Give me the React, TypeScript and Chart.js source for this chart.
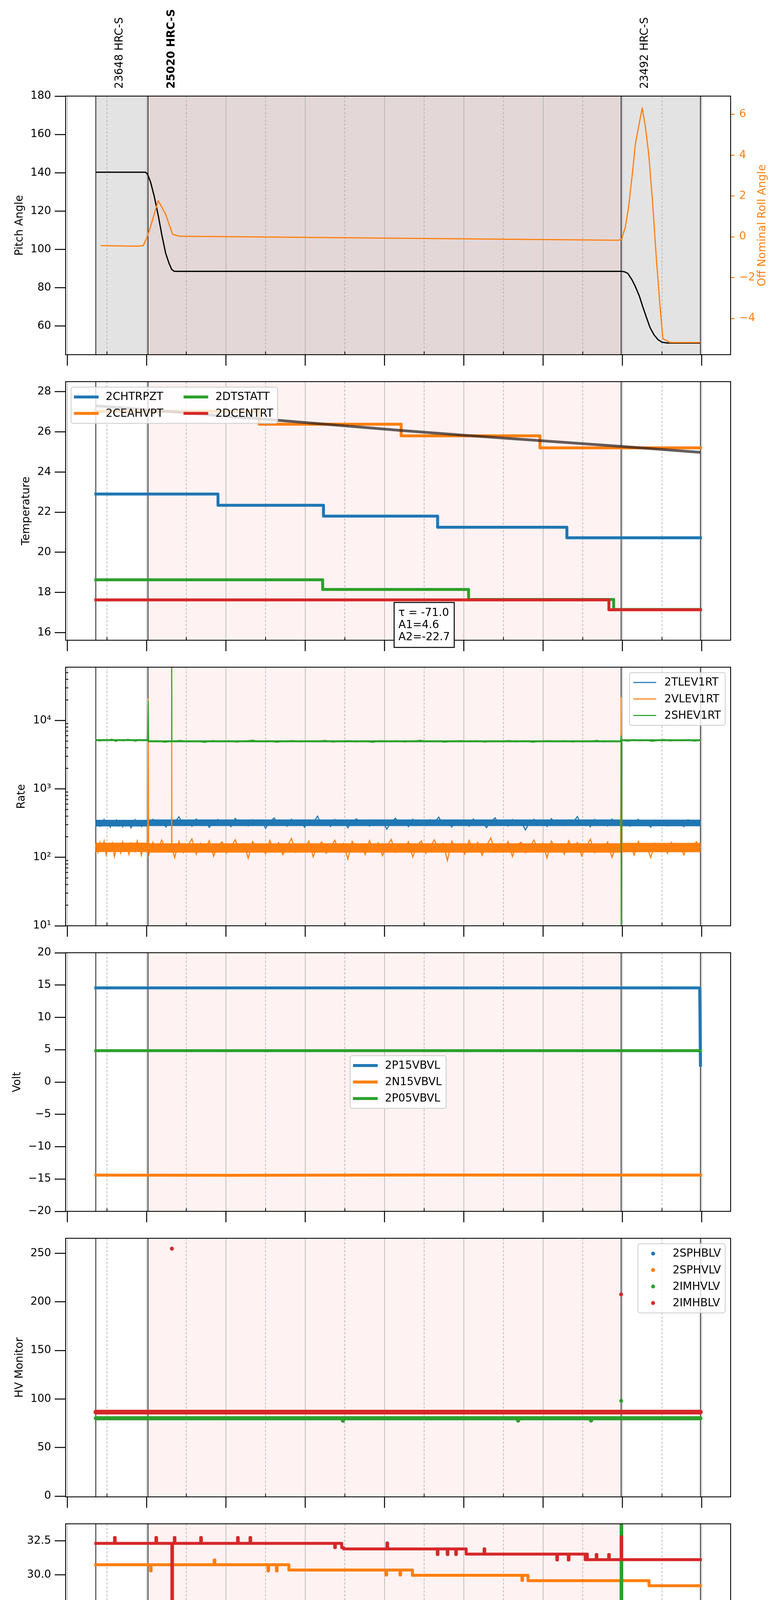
import React, { useEffect, useRef } from 'react';
import { Chart, registerables } from 'chart.js';

Chart.register(...registerables);

const FONT = "'DejaVu Sans', sans-serif";
const FS = 27.8;
const C_BLUE = '#1f77b4';
const C_ORANGE = '#ff7f0e';
const C_GREEN = '#2ca02c';
const C_RED = '#d62728';

const PAGE_W = 2000;
const PAGE_H = 5400;
const PLOT_L = 168;
const PLOT_R = 1871;
const PANEL_TOP0 = 246;
const PANEL_STEP = 731;
const PANEL_H = 662;
const MARGIN = 34;

// ---------------- time axis (hours) ----------------
const X_MIN = -0.022;
const X_MAX = 8.365;
const HOUR_VALUES = [0, 1, 2, 3, 4, 5, 6, 7, 8];
const HOUR_LABELS = ['00h', '01h', '02h', '03h', '04h', '05h', '06h', '07h', '08h'];
const HALF_VALUES = [0.5, 1.5, 2.5, 3.5, 4.5, 5.5, 6.5, 7.5];
const HALF_LABEL = '30';
const X_TITLE = '2021-05-05 (125)';

// ---------------- obsids ----------------
const OBS_START = [0.359, 1.017, 6.984];
const OBS_NAME = ['23648 HRC-S', '25020 HRC-S', '23492 HRC-S'];
const OBS_BOLD = [false, true, false];
const DATA_END = 7.984;
const CUR_START = 1.017;
const CUR_END = 6.984;

type Pair = [number, number];

// ---------------- panel 1: pitch / roll ----------------
const PITCH_RANGE = [45.1, 180];
const PITCH_TICKS = [60, 80, 100, 120, 140, 160, 180];
const ROLL_RANGE = [-5.78, 6.9];
const ROLL_TICKS = [-4, -2, 0, 2, 4, 6];
const PITCH: Pair[] = [[0.359, 140.3], [0.985, 140.3], [1.01, 139.4], [1.05, 135.1], [1.096, 127.7], [1.146, 117.8], [1.19, 107.9], [1.24, 98.0], [1.285, 92.5], [1.316, 89.6], [1.347, 88.6], [6.99, 88.6], [7.03, 88.3], [7.068, 87.5], [7.118, 84.4], [7.163, 80.7], [7.213, 75.8], [7.256, 70.2], [7.307, 64.1], [7.35, 59.1], [7.4, 55.4], [7.45, 52.9], [7.5, 51.6], [7.57, 51.2], [7.984, 51.2]];
const ROLL: Pair[] = [[0.42, -0.43], [0.876, -0.46], [0.958, -0.43], [1.008, 0.0], [1.064, 0.7], [1.146, 1.77], [1.24, 1.1], [1.328, 0.12], [1.41, 0.03], [6.94, -0.17], [6.987, -0.14], [7.037, 0.47], [7.08, 1.51], [7.13, 3.25], [7.163, 4.53], [7.207, 5.45], [7.25, 6.32], [7.288, 5.45], [7.332, 4.06], [7.38, 1.74], [7.43, -1.16], [7.476, -3.48], [7.51, -4.99], [7.6, -5.18], [7.984, -5.18]];

// ---------------- panel 2: temperature ----------------
const TEMP_RANGE = [15.62, 28.5];
const TEMP_TICKS = [16, 18, 20, 22, 24, 26, 28];
const CHTRPZT: Pair[] = [[0.359, 22.9], [1.9, 22.34], [3.23, 21.8], [4.67, 21.25], [6.3, 20.72], [7.984, 20.72]];
const CEAHVPT: Pair[] = [[0.359, 27.02], [2.42, 26.38], [4.21, 25.8], [5.96, 25.2], [7.984, 25.2]];
const DTSTATT: Pair[] = [[0.359, 18.63], [3.22, 18.15], [5.06, 17.65], [6.89, 17.15], [7.984, 17.15]];
const DCENTRT: Pair[] = [[0.359, 17.63], [6.83, 17.14], [7.984, 17.14]];
const TEMP_FIT: Pair[] = [[0.359, 27.3], [1.0, 27.1], [2.0, 26.78], [2.42, 26.65], [3.0, 26.46], [4.21, 26.07], [5.0, 25.83], [5.96, 25.56], [7.0, 25.27], [7.984, 24.98]];
const FIT_TEXT = ['\u03c4 = -71.0', 'A1=4.6', 'A2=-22.7'];
const FIT_TEXT_AT: Pair = [4.5, 17.5];

// ---------------- panel 3: rates ----------------
const RATE_RANGE = [10, 60100];
const RATE_TICKS = [10, 100, 1000, 10000];
const RATE_TICK_LABELS = ['10\u00b9', '10\u00b2', '10\u00b3', '10\u2074'];
const SEG_A: Pair = [0.359, 1.012];
const SEG_B: Pair = [1.025, 6.978];
const SEG_C: Pair = [6.992, 7.984];
// dense core of each noisy band (centre level)
const TLEV_CORE: Pair[] = [[0.359, 316], [1.012, 316], [1.025, 320], [6.978, 320], [6.992, 318], [7.984, 318]];
const VLEV_CORE: Pair[] = [[0.359, 140], [1.012, 140], [1.025, 137], [6.978, 137], [6.992, 139], [7.984, 139]];
const SHEV_CORE: Pair[] = [[0.359, 5160], [1.012, 5160], [1.025, 4960], [6.978, 4960], [6.992, 5140], [7.984, 5140]];
const TLEV_A = [306, 341, 285, 322, 358, 294, 316, 276, 335, 301, 350, 288, 320, 279, 344, 305, 329, 270, 314, 355, 290, 326, 283, 338, 299, 319];
const TLEV_B = [294, 360, 307, 338, 278, 350, 321, 392, 300, 333, 285, 364, 312, 345, 274, 327, 358, 296, 340, 281, 370, 316, 334, 288, 355, 303, 347, 266, 331, 377, 298, 324, 285, 360, 309, 342, 276, 351, 320, 400, 293, 336, 282, 357, 314, 341, 270, 329, 366, 301, 335, 286, 352, 318, 345, 258, 326, 373, 305, 339, 281, 361, 313, 334, 290, 355, 323, 387, 298, 332, 278, 350, 316, 344, 285, 364, 307, 337, 271, 328, 379, 300, 341, 288, 357, 315, 333, 252, 324, 360, 295, 346, 283, 368, 310, 338, 292, 353, 320, 395, 302, 335, 280, 358, 314, 342, 287, 363, 308, 329];
const TLEV_C = [299, 341, 285, 327, 360, 294, 318, 276, 350, 307, 333, 288, 345, 302, 326, 281, 355, 309, 337, 320];
const VLEV_A = [152, 118, 165, 131, 173, 109, 146, 124, 161, 102, 139, 156, 116, 168, 128, 150, 111, 160, 135, 121, 174, 142, 107, 153, 130, 148];
const VLEV_B = [108, 166, 122, 179, 131, 153, 99, 172, 117, 148, 186, 111, 161, 129, 175, 104, 150, 168, 116, 142, 181, 123, 158, 97, 170, 135, 152, 113, 177, 126, 164, 109, 146, 189, 119, 156, 132, 173, 102, 149, 167, 115, 140, 178, 121, 160, 94, 171, 137, 154, 110, 176, 128, 163, 106, 145, 183, 118, 157, 133, 169, 101, 151, 174, 114, 143, 180, 125, 161, 90, 172, 136, 153, 112, 177, 127, 165, 107, 147, 192, 120, 158, 131, 170, 103, 150, 166, 116, 141, 179, 124, 162, 98, 173, 138, 155, 111, 175, 129, 164, 105, 144, 184, 117, 156, 134, 168, 100, 152, 140];
const VLEV_C = [162, 121, 155, 108, 171, 134, 146, 99, 160, 127, 152, 115, 166, 131, 143, 109, 158, 125, 169, 138];
const SHEV_A = [5180, 5020, 5260, 5090, 5340, 4960, 5210, 5060, 5300, 5130, 4990, 5240, 5080, 5170];
const SHEV_B = [4890, 5060, 4820, 4980, 5120, 4870, 5010, 4780, 5090, 4930, 5040, 4850, 5000, 5150, 4900, 5030, 4810, 4970, 5080, 4880, 5020, 4920, 5110, 4840, 4990, 5060, 4870, 5010, 4800, 5070, 4950, 5040, 4860, 5000, 5130, 4890, 5020, 4830, 4980, 5090, 4910, 5050, 4850, 5010, 4940, 5100, 4870, 5030, 4820, 4990, 5070, 4900, 5040, 4860, 5010, 4950, 5120, 4880, 5020, 4960];
const SHEV_C = [5160, 4990, 5250, 5060, 5200, 4950, 5120, 5280, 5030, 5180, 5070, 5230, 5000, 5140];
const VLEV_SPIKES: Pair[] = [[1.019, 21000], [1.314, 140], [1.316, 4800], [1.318, 140], [6.984, 22000]];
const SHEV_SPIKES: Pair[] = [[1.019, 19500], [1.314, 4950], [1.316, 100000], [1.318, 4950], [6.983, 6000], [6.986, 1]];

// ---------------- panel 4: voltages ----------------
const VOLT_RANGE = [-20, 20];
const VOLT_TICKS = [-20, -15, -10, -5, 0, 5, 10, 15, 20];
const P15VBVL: Pair[] = [[0.359, 14.56], [7.975, 14.56], [7.984, 2.6]];
const N15VBVL: Pair[] = [[0.359, -14.4], [2.1, -14.43], [4.4, -14.38], [7.984, -14.4]];
const P05VBVL: Pair[] = [[0.359, 4.85], [7.984, 4.85]];

// ---------------- panel 5: HV monitor ----------------
const HV_RANGE = [-0.8, 265.5];
const HV_TICKS = [0, 50, 100, 150, 200, 250];
const SPHBLV: Pair[] = [];
const SPHVLV: Pair[] = [];
const IMHVLV: Pair[] = [[0.359, 80.2], [3.47, 80.2], [3.475, 77.6], [3.48, 80.2], [5.68, 80.2], [5.685, 77.8], [5.69, 80.2], [6.6, 80.2], [6.605, 77.8], [6.61, 80.2], [7.984, 80.2]];
const IMHVLV_OUT: Pair[] = [[6.984, 98.1]];
const IMHBLV: Pair[] = [[0.359, 86.5], [7.984, 86.5]];
const IMHBLV_OUT: Pair[] = [[1.318, 254.8], [6.984, 207.7]];

// ---------------- panel 6: detector temps ----------------
const DET_RANGE = [14.79, 33.75];
const DET_TICKS = [15, 17.5, 20, 22.5, 25, 27.5, 30, 32.5];
const SPINATM: Pair[] = [[0.359, 16.36], [2.762, 16.98], [2.772, 16.36], [2.785, 16.98], [2.8, 16.36], [2.815, 16.98], [2.833, 16.36], [2.848, 16.98], [7.222, 16.36], [7.232, 16.98], [7.304, 16.36], [7.983, 16.36]];
const SPHVATM: Pair[] = [[0.359, 30.75], [1.048, 30.3], [1.056, 30.75], [1.852, 31.1], [1.86, 30.75], [2.53, 30.3], [2.538, 30.75], [2.637, 30.3], [2.645, 30.75], [2.794, 30.36], [4.019, 30.0], [4.027, 30.36], [4.195, 30.0], [4.203, 30.36], [4.352, 29.98], [5.733, 29.6], [5.741, 29.98], [5.809, 29.58], [6.984, 0], [6.992, 29.58], [7.336, 29.21], [7.983, 29.21]];
const IMINATM: Pair[] = [[0.359, 18.28], [5.845, 17.62], [5.855, 18.28], [5.872, 17.62], [6.984, 60], [6.992, 17.62], [7.983, 17.62]];
const IMHVATM: Pair[] = [[0.359, 32.32], [0.595, 32.75], [0.603, 32.32], [1.117, 32.75], [1.125, 32.32], [1.318, 0], [1.326, 32.32], [1.349, 32.75], [1.357, 32.32], [1.682, 32.75], [1.69, 32.32], [2.147, 32.75], [2.155, 32.32], [2.304, 32.75], [2.312, 32.32], [3.372, 32.0], [3.38, 32.32], [3.46, 32.0], [3.485, 31.91], [4.031, 32.35], [4.039, 31.91], [4.666, 31.5], [4.674, 31.91], [4.791, 31.5], [4.799, 31.91], [4.898, 31.5], [4.906, 31.91], [5.03, 31.53], [5.256, 31.92], [5.264, 31.53], [6.173, 31.1], [6.181, 31.53], [6.318, 31.1], [6.326, 31.53], [6.531, 31.12], [6.548, 31.53], [6.558, 31.12], [6.67, 31.5], [6.678, 31.12], [6.827, 31.5], [6.835, 31.12], [6.984, 32.8], [6.992, 31.12], [7.983, 31.12]];

// ---------------- panel 7: FEA temps ----------------
const FEA_RANGE = [12.3, 24.59];
const FEA_TICKS = [14, 16, 18, 20, 22, 24];
const FHTRMZT: Pair[] = [[0.359, 21.28], [2.197, 20.74], [3.077, 20.21], [4.069, 19.68], [5.181, 19.17], [6.531, 18.66], [7.983, 18.66]];
const FRADPYT: Pair[] = [[0.359, 17.17], [1.349, 16.69], [1.651, 16.2], [2.103, 15.72], [2.775, 15.24], [3.623, 14.77], [4.59, 14.32], [5.765, 13.87], [7.242, 13.41], [7.474, 13.87], [7.838, 14.31], [7.983, 14.31]];
const FEPRATM: Pair[] = [[0.359, 23.14], [1.318, 0], [1.326, 23.14], [2.719, 22.4], [4.157, 21.69], [5.652, 21.0], [5.66, 21.69], [5.872, 20.98], [6.984, 40], [6.992, 20.98], [7.983, 20.98]];
const FE00ATM: Pair[] = [[0.359, 21.72], [0.392, 21.3], [0.4, 21.72], [0.42, 21.35], [0.432, 21.72], [0.455, 21.3], [0.463, 21.72], [0.562, 20.8], [0.572, 21.72], [0.656, 21.3], [0.664, 21.72], [1.016, 21.1], [1.024, 21.72], [1.098, 22.05], [1.106, 21.72], [1.318, 0], [1.326, 21.72], [1.38, 21.43], [1.395, 21.72], [1.405, 21.43], [1.431, 22.05], [1.439, 21.43], [1.538, 21.75], [1.546, 21.43], [1.651, 21.75], [1.659, 21.43], [1.776, 21.75], [1.784, 21.43], [1.852, 21.1], [1.86, 21.43], [2.103, 21.14], [2.115, 22.1], [2.123, 21.14], [2.153, 21.7], [2.161, 21.14], [2.247, 21.7], [2.255, 21.14], [2.398, 20.15], [2.406, 21.14], [2.719, 19.55], [2.727, 21.14], [2.781, 20.83], [2.813, 21.75], [2.821, 20.83], [2.901, 21.75], [2.909, 20.83], [3.058, 20.45], [3.066, 20.83], [3.089, 21.1], [3.097, 20.83], [3.171, 21.75], [3.179, 20.83], [3.19, 21.75], [3.198, 20.83], [3.215, 20.45], [3.223, 20.83], [3.328, 21.75], [3.336, 20.83], [3.372, 19.24], [3.38, 20.83], [3.453, 20.5], [3.504, 20.85], [3.512, 20.5], [3.579, 20.85], [3.587, 20.5], [3.717, 21.1], [3.725, 20.5], [3.893, 19.95], [3.901, 20.5], [3.987, 19.95], [3.995, 20.5], [4.037, 21.1], [4.045, 20.5], [4.094, 19.25], [4.11, 20.5], [4.176, 20.19], [4.333, 21.1], [4.341, 20.19], [4.427, 19.55], [4.435, 20.19], [4.71, 19.85], [4.718, 20.19], [4.854, 20.5], [4.862, 20.19], [4.911, 20.5], [4.919, 20.19], [4.948, 20.5], [4.956, 20.19], [5.024, 19.88], [5.106, 20.2], [5.114, 19.88], [5.432, 20.5], [5.44, 19.88], [5.715, 18.64], [5.723, 19.88], [5.954, 19.59], [5.985, 20.2], [5.993, 19.59], [6.217, 19.2], [6.225, 19.59], [6.255, 20.2], [6.263, 19.59], [6.406, 19.2], [6.414, 19.59], [6.626, 20.5], [6.634, 19.59], [6.701, 18.65], [6.709, 19.59], [6.782, 18.9], [6.79, 19.59], [6.984, 0], [6.992, 19.59], [7.053, 19.28], [7.983, 19.28]];

// ---------------- helpers ----------------
const toPts = (pairs: Pair[]) => pairs.map(([x, y]) => ({ x, y }));
const evenly = (seg: Pair, vals: number[]) =>
  vals.map((v, i) => ({ x: seg[0] + ((seg[1] - seg[0]) * i) / (vals.length - 1), y: v }));
const joinSorted = (...parts: any[][]) => parts.flat().sort((a, b) => a.x - b.x);

const fmtSigned = (v: number) => (v < 0 ? '\u2212' + String(Math.abs(v)) : String(v));
const fmtOne = (v: number) => v.toFixed(1);
const fmtRate = (v: number) => {
  const k = RATE_TICKS.indexOf(v);
  return k >= 0 ? RATE_TICK_LABELS[k] : '';
};

function lineDs(label: string, data: any[], color: string, lw: number, opts: any = {}) {
  return {
    label, data, borderColor: color, backgroundColor: color, borderWidth: lw,
    pointRadius: 0, pointHoverRadius: 0, tension: 0, fill: false, clip: 0,
    borderJoinStyle: 'round', borderCapStyle: 'square', ...opts,
  };
}
function dotDs(label: string, data: any[], color: string, r: number) {
  return {
    label, data, showLine: false, borderColor: color, backgroundColor: color,
    pointBackgroundColor: color, pointBorderWidth: 0, pointRadius: r, pointHoverRadius: r, clip: 0,
  };
}

type LegItem = { label: string; color: string; kind: 'line' | 'dot'; lw?: number };

const LW = 7.5;
const LW_THIN = 2.8;
const NOISE = { borderCapStyle: 'butt', borderJoinStyle: 'miter' };

function rateMinor(): number[] {
  const out: number[] = [];
  for (const d of [10, 100, 1000, 10000]) for (let m = 2; m <= 9; m++) if (d * m < RATE_RANGE[1]) out.push(d * m);
  return out;
}

const PANELS: any[] = [
  {
    top: true, yType: 'linear', range: PITCH_RANGE, ticks: PITCH_TICKS, fmt: fmtSigned, title: 'Pitch Angle', titlePad: 34,
    datasets: () => [
      lineDs('Pitch', toPts(PITCH), '#000000', 3.2, { yAxisID: 'y', borderCapStyle: 'butt' }),
      lineDs('Roll', toPts(ROLL), C_ORANGE, 3.0, { yAxisID: 'y2', borderCapStyle: 'butt' }),
    ],
    legend: null,
  },
  {
    yType: 'linear', range: TEMP_RANGE, ticks: TEMP_TICKS, fmt: fmtSigned, title: 'Temperature', titlePad: 51,
    datasets: () => [
      lineDs('2CHTRPZT', toPts(CHTRPZT), C_BLUE, LW, { stepped: true }),
      lineDs('2CEAHVPT', toPts(CEAHVPT), C_ORANGE, LW, { stepped: true }),
      lineDs('2DTSTATT', toPts(DTSTATT), C_GREEN, LW, { stepped: true }),
      lineDs('2DCENTRT', toPts(DCENTRT), C_RED, LW, { stepped: true }),
      lineDs('fit', toPts(TEMP_FIT), 'rgba(40,30,30,0.72)', 7, { borderCapStyle: 'butt' }),
    ],
    legend: {
      loc: 'ul', ncol: 2, items: [
        { label: '2CHTRPZT', color: C_BLUE, kind: 'line', lw: LW },
        { label: '2CEAHVPT', color: C_ORANGE, kind: 'line', lw: LW },
        { label: '2DTSTATT', color: C_GREEN, kind: 'line', lw: LW },
        { label: '2DCENTRT', color: C_RED, kind: 'line', lw: LW },
      ],
    },
    annotate: true,
  },
  {
    yType: 'logarithmic', range: RATE_RANGE, ticks: RATE_TICKS, fmt: fmtRate, title: 'Rate', titlePad: 39, logMinor: true,
    datasets: () => [
      lineDs('2TLEV1RT core', toPts(TLEV_CORE), C_BLUE, 17, NOISE),
      lineDs('2TLEV1RT', joinSorted(evenly(SEG_A, TLEV_A), evenly(SEG_B, TLEV_B), evenly(SEG_C, TLEV_C)), C_BLUE, LW_THIN, NOISE),
      lineDs('2VLEV1RT core', toPts(VLEV_CORE), C_ORANGE, 24, NOISE),
      lineDs('2VLEV1RT', joinSorted(evenly(SEG_A, VLEV_A), evenly(SEG_B, VLEV_B), evenly(SEG_C, VLEV_C), toPts(VLEV_SPIKES)), C_ORANGE, LW_THIN, NOISE),
      lineDs('2SHEV1RT core', toPts(SHEV_CORE), C_GREEN, 5, NOISE),
      lineDs('2SHEV1RT', joinSorted(evenly(SEG_A, SHEV_A), evenly(SEG_B, SHEV_B), evenly(SEG_C, SHEV_C), toPts(SHEV_SPIKES)), C_GREEN, LW_THIN, NOISE),
    ],
    legend: {
      loc: 'ur', ncol: 1, items: [
        { label: '2TLEV1RT', color: C_BLUE, kind: 'line', lw: LW_THIN },
        { label: '2VLEV1RT', color: C_ORANGE, kind: 'line', lw: LW_THIN },
        { label: '2SHEV1RT', color: C_GREEN, kind: 'line', lw: LW_THIN },
      ],
    },
  },
  {
    yType: 'linear', range: VOLT_RANGE, ticks: VOLT_TICKS, fmt: fmtSigned, title: 'Volt', titlePad: 28,
    datasets: () => [
      lineDs('2P15VBVL', toPts(P15VBVL), C_BLUE, LW),
      lineDs('2N15VBVL', toPts(N15VBVL), C_ORANGE, LW),
      lineDs('2P05VBVL', toPts(P05VBVL), C_GREEN, LW),
    ],
    legend: {
      loc: 'c', ncol: 1, items: [
        { label: '2P15VBVL', color: C_BLUE, kind: 'line', lw: LW },
        { label: '2N15VBVL', color: C_ORANGE, kind: 'line', lw: LW },
        { label: '2P05VBVL', color: C_GREEN, kind: 'line', lw: LW },
      ],
    },
  },
  {
    yType: 'linear', range: HV_RANGE, ticks: HV_TICKS, fmt: fmtSigned, title: 'HV Monitor', titlePad: 34,
    datasets: () => [
      dotDs('2SPHBLV', toPts(SPHBLV), C_BLUE, 5),
      dotDs('2SPHVLV', toPts(SPHVLV), C_ORANGE, 5),
      lineDs('2IMHVLV', toPts(IMHVLV), C_GREEN, 10.5, { borderCapStyle: 'round' }),
      lineDs('2IMHBLV', toPts(IMHBLV), C_RED, 12, { borderCapStyle: 'round' }),
      dotDs('2IMHVLV out', toPts(IMHVLV_OUT), C_GREEN, 5),
      dotDs('2IMHBLV out', toPts(IMHBLV_OUT), C_RED, 5),
    ],
    legend: {
      loc: 'ur', ncol: 1, items: [
        { label: '2SPHBLV', color: C_BLUE, kind: 'dot' },
        { label: '2SPHVLV', color: C_ORANGE, kind: 'dot' },
        { label: '2IMHVLV', color: C_GREEN, kind: 'dot' },
        { label: '2IMHBLV', color: C_RED, kind: 'dot' },
      ],
    },
  },
  {
    yType: 'linear', range: DET_RANGE, ticks: DET_TICKS, fmt: fmtOne, title: 'Detector Temp', titlePad: 25,
    datasets: () => [
      lineDs('2SPINATM', toPts(SPINATM), C_BLUE, LW, { stepped: true }),
      lineDs('2SPHVATM', toPts(SPHVATM), C_ORANGE, LW, { stepped: true }),
      lineDs('2IMINATM', toPts(IMINATM), C_GREEN, LW, { stepped: true }),
      lineDs('2IMHVATM', toPts(IMHVATM), C_RED, LW, { stepped: true }),
    ],
    legend: {
      loc: 'cr', ncol: 1, items: [
        { label: '2SPINATM', color: C_BLUE, kind: 'line', lw: LW },
        { label: '2SPHVATM', color: C_ORANGE, kind: 'line', lw: LW },
        { label: '2IMINATM', color: C_GREEN, kind: 'line', lw: LW },
        { label: '2IMHVATM', color: C_RED, kind: 'line', lw: LW },
      ],
    },
  },
  {
    bottom: true, yType: 'linear', range: FEA_RANGE, ticks: FEA_TICKS, fmt: fmtSigned, title: 'FEA Temp', titlePad: 51,
    datasets: () => [
      lineDs('2FHTRMZT', toPts(FHTRMZT), C_BLUE, LW, { stepped: true }),
      lineDs('2FRADPYT', toPts(FRADPYT), C_ORANGE, LW, { stepped: true }),
      lineDs('2FEPRATM', toPts(FEPRATM), C_GREEN, LW, { stepped: true }),
      lineDs('2FE00ATM', toPts(FE00ATM), C_RED, LW, { stepped: true }),
    ],
    legend: {
      loc: 'ur', ncol: 1, items: [
        { label: '2FHTRMZT', color: C_BLUE, kind: 'line', lw: LW },
        { label: '2FRADPYT', color: C_ORANGE, kind: 'line', lw: LW },
        { label: '2FEPRATM', color: C_GREEN, kind: 'line', lw: LW },
        { label: '2FE00ATM', color: C_RED, kind: 'line', lw: LW },
      ],
    },
  },
];

function geom(i: number) {
  const top = PANEL_TOP0 + i * PANEL_STEP;
  const cTop = i === 0 ? 0 : top - MARGIN;
  const cBot = i === PANELS.length - 1 ? PAGE_H : top + PANEL_H + MARGIN;
  return { cTop, cH: cBot - cTop, padTop: top - cTop, xH: cBot - (top + PANEL_H) };
}

function drawLegend(ctx: CanvasRenderingContext2D, a: any, cfg: any) {
  const pad = 0.4 * FS, hl = 2 * FS, htp = 0.8 * FS, ls = 0.5 * FS, cs = 2 * FS, axp = 0.5 * FS, rowH = 28.3;
  ctx.save();
  ctx.font = `${FS}px ${FONT}`;
  const nrow = Math.ceil(cfg.items.length / cfg.ncol);
  const cols: LegItem[][] = [];
  for (let c = 0; c < cfg.ncol; c++) cols.push(cfg.items.slice(c * nrow, (c + 1) * nrow));
  const colW = cols.map((col) => hl + htp + Math.max(...col.map((it) => ctx.measureText(it.label).width)));
  const w = 2 * pad + colW.reduce((s, v) => s + v, 0) + cs * (cfg.ncol - 1);
  const h = 2 * pad + nrow * rowH + (nrow - 1) * ls;
  let x0 = 0, y0 = 0;
  if (cfg.loc === 'ul') { x0 = a.left + axp; y0 = a.top + axp; }
  else if (cfg.loc === 'ur') { x0 = a.right - axp - w; y0 = a.top + axp; }
  else if (cfg.loc === 'c') { x0 = (a.left + a.right) / 2 - w / 2; y0 = (a.top + a.bottom) / 2 - h / 2; }
  else { x0 = a.right - axp - w; y0 = (a.top + a.bottom) / 2 - h / 2; }
  ctx.beginPath();
  (ctx as any).roundRect(x0, y0, w, h, 0.2 * FS);
  ctx.fillStyle = 'rgba(255,255,255,0.8)';
  ctx.fill();
  ctx.strokeStyle = '#cccccc';
  ctx.lineWidth = 2;
  ctx.stroke();
  let cx = x0 + pad;
  cols.forEach((col, c) => {
    col.forEach((it, r) => {
      const cy = y0 + pad + r * (rowH + ls) + rowH / 2;
      if (it.kind === 'dot') {
        ctx.beginPath();
        ctx.arc(cx + hl / 2, cy, 5, 0, Math.PI * 2);
        ctx.fillStyle = it.color;
        ctx.fill();
      } else {
        ctx.beginPath();
        ctx.moveTo(cx, cy);
        ctx.lineTo(cx + hl, cy);
        ctx.strokeStyle = it.color;
        ctx.lineWidth = it.lw || 2;
        ctx.lineCap = 'square';
        ctx.stroke();
      }
      ctx.fillStyle = '#000';
      ctx.textAlign = 'left';
      ctx.textBaseline = 'middle';
      ctx.fillText(it.label, cx + hl + htp, cy + 1);
    });
    cx += colW[c] + cs;
  });
  ctx.restore();
}

function makePlugin(p: any, i: number) {
  return {
    id: 'panelDecor' + i,
    beforeDatasetsDraw(chart: any) {
      const { ctx, chartArea: a } = chart;
      const xs = chart.scales.x;
      const X = (t: number) => xs.getPixelForValue(t);
      ctx.save();
      if (p.top) {
        ctx.fillStyle = '#e3e3e3';
        ctx.fillRect(X(OBS_START[0]), a.top, X(DATA_END) - X(OBS_START[0]), a.bottom - a.top);
      }
      ctx.fillStyle = 'rgba(255,0,0,0.05)';
      ctx.fillRect(X(CUR_START), a.top, X(CUR_END) - X(CUR_START), a.bottom - a.top);
      ctx.strokeStyle = '#b0b0b0';
      ctx.lineWidth = 1.6;
      for (const h of HOUR_VALUES) {
        ctx.beginPath(); ctx.moveTo(X(h), a.top); ctx.lineTo(X(h), a.bottom); ctx.stroke();
      }
      ctx.setLineDash([6, 4]);
      for (const h of HALF_VALUES) {
        ctx.beginPath(); ctx.moveTo(X(h), a.top); ctx.lineTo(X(h), a.bottom); ctx.stroke();
      }
      ctx.setLineDash([]);
      ctx.strokeStyle = '#000';
      ctx.lineWidth = 1.8;
      for (const t of [...OBS_START, DATA_END]) {
        ctx.beginPath(); ctx.moveTo(X(t), a.top); ctx.lineTo(X(t), a.bottom); ctx.stroke();
      }
      ctx.restore();
    },
    afterDatasetsDraw(chart: any) {
      const { ctx, chartArea: a } = chart;
      const xs = chart.scales.x;
      const ys = chart.scales.y;
      const X = (t: number) => xs.getPixelForValue(t);
      ctx.save();
      ctx.strokeStyle = '#000';
      ctx.lineWidth = 2.2;
      ctx.strokeRect(a.left, a.top, a.right - a.left, a.bottom - a.top);
      ctx.lineWidth = 2.5;
      for (const h of HOUR_VALUES) {
        ctx.beginPath(); ctx.moveTo(X(h), a.bottom); ctx.lineTo(X(h), a.bottom + 28); ctx.stroke();
      }
      ctx.lineWidth = 2;
      for (const h of HALF_VALUES) {
        ctx.beginPath(); ctx.moveTo(X(h), a.bottom); ctx.lineTo(X(h), a.bottom - 8); ctx.stroke();
      }
      if (p.logMinor) {
        for (const v of rateMinor()) {
          const y = ys.getPixelForValue(v);
          ctx.beginPath(); ctx.moveTo(a.left, y); ctx.lineTo(a.left + 7, y); ctx.stroke();
        }
      }
      if (p.top) {
        for (let k = 0; k < OBS_START.length; k++) {
          ctx.save();
          ctx.translate(X(OBS_START[k]) + 61, 227);
          ctx.rotate(-Math.PI / 2);
          ctx.font = `${OBS_BOLD[k] ? 'bold ' : ''}${FS}px ${FONT}`;
          ctx.fillStyle = '#000';
          ctx.textAlign = 'left';
          ctx.textBaseline = 'middle';
          ctx.fillText(OBS_NAME[k], 0, 0);
          ctx.restore();
        }
        ctx.save();
        ctx.translate(1953, (a.top + a.bottom) / 2);
        ctx.rotate(-Math.PI / 2);
        ctx.font = `${FS}px ${FONT}`;
        ctx.fillStyle = C_ORANGE;
        ctx.textAlign = 'center';
        ctx.textBaseline = 'middle';
        ctx.fillText('Off Nominal Roll Angle', 0, 0);
        ctx.restore();
      }
      if (p.annotate) {
        ctx.font = `${FS}px ${FONT}`;
        const tw = Math.max(...FIT_TEXT.map((s) => ctx.measureText(s).width));
        const pad = 11, lh = 31;
        const w = tw + 2 * pad, h = FIT_TEXT.length * lh + 2 * pad;
        const x0 = X(FIT_TEXT_AT[0]) - w / 2;
        const y0 = ys.getPixelForValue(FIT_TEXT_AT[1]);
        ctx.fillStyle = '#fff';
        ctx.fillRect(x0, y0, w, h);
        ctx.strokeStyle = '#000';
        ctx.lineWidth = 2.5;
        ctx.strokeRect(x0, y0, w, h);
        ctx.fillStyle = '#000';
        ctx.textAlign = 'left';
        ctx.textBaseline = 'middle';
        FIT_TEXT.forEach((s, k) => ctx.fillText(s, x0 + pad, y0 + pad + lh * k + lh / 2 + 1));
      }
      ctx.restore();
      if (p.legend) drawLegend(ctx, a, p.legend);
    },
  };
}

function makeConfig(p: any, i: number) {
  const g = geom(i);
  const ds = p.datasets();
  ds.forEach((d: any, k: number) => { d.order = ds.length - k; });
  const allX = [...HOUR_VALUES, ...HALF_VALUES].sort((a, b) => a - b);
  const scales: any = {
    x: {
      type: 'linear', min: X_MIN, max: X_MAX, position: 'bottom',
      afterFit: (s: any) => { s.height = g.xH; },
      afterBuildTicks: (s: any) => { s.ticks = allX.map((v) => ({ value: v })); },
      grid: { display: false, drawTicks: false },
      border: { display: false },
      ticks: {
        display: !!p.bottom, autoSkip: false, maxRotation: 0, minRotation: 0, padding: 3, color: '#000',
        callback: (v: number) => {
          const k = HOUR_VALUES.indexOf(v);
          return k >= 0 ? ['', HOUR_LABELS[k]] : HALF_LABEL;
        },
        font: (c: any) => ({ family: FONT, size: c.tick && Number.isInteger(c.tick.value) ? 26 : 19 }),
      },
      title: {
        display: !!p.bottom, text: X_TITLE, color: '#000',
        font: { family: FONT, size: 33.4 }, padding: { top: 0, bottom: 3 },
      },
    },
    y: {
      type: p.yType, min: p.range[0], max: p.range[1], position: 'left',
      afterFit: (s: any) => { s.width = PLOT_L; },
      afterBuildTicks: (s: any) => { s.ticks = p.ticks.map((v: number) => ({ value: v })); },
      grid: { drawOnChartArea: false, drawTicks: true, tickLength: 28, tickWidth: 2.5, tickColor: '#000' },
      border: { display: false },
      ticks: { autoSkip: false, padding: 9, color: '#000', font: { family: FONT, size: FS }, callback: (v: number) => p.fmt(v) },
      title: {
        display: true, text: p.title, color: '#000', font: { family: FONT, size: FS },
        padding: { top: p.titlePad, bottom: 0 },
      },
    },
  };
  if (p.top) {
    scales.y2 = {
      type: 'linear', min: ROLL_RANGE[0], max: ROLL_RANGE[1], position: 'right',
      afterFit: (s: any) => { s.width = PAGE_W - PLOT_R; },
      afterBuildTicks: (s: any) => { s.ticks = ROLL_TICKS.map((v) => ({ value: v })); },
      grid: { drawOnChartArea: false, drawTicks: true, tickLength: 10, tickWidth: 2.5, tickColor: C_ORANGE },
      border: { display: false },
      ticks: { autoSkip: false, padding: 12, color: C_ORANGE, font: { family: FONT, size: FS }, callback: (v: number) => fmtSigned(v) },
    };
  }
  return {
    type: 'line',
    data: { datasets: ds },
    options: {
      responsive: false,
      maintainAspectRatio: false,
      animation: false,
      devicePixelRatio: 1,
      events: [],
      layout: {
        autoPadding: false,
        padding: { top: g.padTop, left: 0, right: p.top ? 0 : PAGE_W - PLOT_R, bottom: 0 },
      },
      plugins: { legend: { display: false }, tooltip: { enabled: false }, title: { display: false } },
      scales,
    },
    plugins: [makePlugin(p, i)],
  };
}

export default function App() {
  const refs = useRef<(HTMLCanvasElement | null)[]>([]);
  useEffect(() => {
    document.body.style.margin = '0';
    Chart.defaults.font.family = FONT;
    Chart.defaults.color = '#000';
    const charts: Chart[] = [];
    PANELS.forEach((p, i) => {
      const el = refs.current[i];
      if (!el) return;
      charts.push(new Chart(el, makeConfig(p, i) as any));
    });
    return () => { charts.forEach((c) => c.destroy()); };
  }, []);
  return (
    <div style={{ position: 'relative', width: PAGE_W, height: PAGE_H, background: '#ffffff' }}>
      {PANELS.map((p, i) => {
        const g = geom(i);
        return (
          <canvas
            key={i}
            ref={(el) => { refs.current[i] = el; }}
            width={PAGE_W}
            height={g.cH}
            style={{ position: 'absolute', left: 0, top: g.cTop, width: PAGE_W, height: g.cH, display: 'block' }}
          />
        );
      })}
    </div>
  );
}
